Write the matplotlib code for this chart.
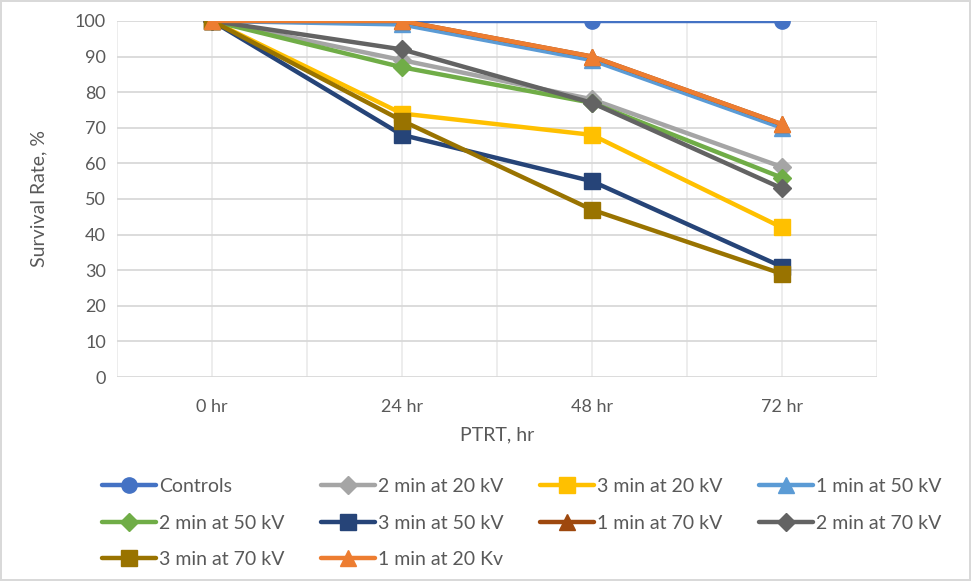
from matplotlib import pyplot as plt
import numpy as np

# survival after pulsed treatment, by exposure time and voltage
timepoints = ["0 hr", "24 hr", "48 hr", "72 hr"]

controls = [100, 100, 100, 100]
min2_20kv = [100, 89, 78, 59]
min3_20kv = [100, 74, 68, 42]
min1_50kv = [100, 99, 89, 70]
min2_50kv = [100, 87, 77, 56]
min3_50kv = [100, 68, 55, 31]
min1_70kv = [100, 100, 90, 71]
min2_70kv = [100, 92, 77, 53]
min3_70kv = [100, 72, 47, 29]
min1_20kv = [100, 100, 90, 71]

series = [
    ("Controls", controls, "#4472C4", "o"),
    ("2 min at 20 kV", min2_20kv, "#A5A5A5", "D"),
    ("3 min at 20 kV", min3_20kv, "#FFC000", "s"),
    ("1 min at 50 kV", min1_50kv, "#5B9BD5", "^"),
    ("2 min at 50 kV", min2_50kv, "#70AD47", "D"),
    ("3 min at 50 kV", min3_50kv, "#264478", "s"),
    ("1 min at 70 kV", min1_70kv, "#9E480E", "^"),
    ("2 min at 70 kV", min2_70kv, "#636363", "D"),
    ("3 min at 70 kV", min3_70kv, "#997300", "s"),
    ("1 min at 20 Kv", min1_20kv, "#ED7D31", "^"),
]


def main():
    plt.rcParams['font.family'] = ['Lato', 'DejaVu Sans']
    fig = plt.figure(figsize=(9.71, 5.81), dpi=100)
    fig.patch.set_edgecolor("#d9d9d9")
    fig.patch.set_linewidth(1.5)
    ax = fig.add_axes([0.1205, 0.351, 0.7825, 0.613])

    x = np.arange(len(timepoints))
    lines = []
    for label, vals, color, marker in series:
        ms = 11 if marker != "D" else 9
        ln, = ax.plot(x, vals, color=color, lw=3.2, marker=marker, ms=ms,
                      label=label, solid_capstyle="round", solid_joinstyle="round")
        lines.append(ln)

    ax.set_xlim(-0.5, len(timepoints) - 0.5)
    ax.set_ylim(0, 100)
    ax.set_yticks(np.arange(0, 101, 10))
    ax.set_xticks(x)
    ax.set_xticklabels(timepoints)

    # horizontal and vertical gridlines behind the series
    ax.set_axisbelow(True)
    ax.grid(axis="y", color="#d9d9d9", lw=1.3)
    for gx in np.arange(-0.5, len(timepoints), 0.5):
        ax.axvline(gx, color="#ececec", lw=1.3, zorder=0)

    for s in ax.spines.values():
        s.set_visible(False)
    ax.tick_params(length=0, labelsize=13, colors="#595959", pad=16)
    ax.tick_params(axis="y", pad=8)

    ax.set_xlabel("PTRT, hr", fontsize=14, color="#595959", labelpad=8)
    ax.set_ylabel("Survival Rate, %", fontsize=14, color="#595959", labelpad=20)

    # legend fills column by column, so reorder to read across rows
    order = [0, 4, 8, 1, 5, 9, 2, 6, 3, 7]
    fig.legend([lines[i] for i in order], [series[i][0] for i in order],
               loc="upper left", bbox_to_anchor=(0.087, 0.207), ncol=4,
               frameon=False, fontsize=14, labelcolor="#595959",
               handlelength=2.8, handletextpad=0.15, columnspacing=1.85,
               labelspacing=1.0)

    fig.savefig("out.png", dpi=100, facecolor="white", edgecolor=fig.patch.get_edgecolor())


if __name__ == "__main__":
    main()
